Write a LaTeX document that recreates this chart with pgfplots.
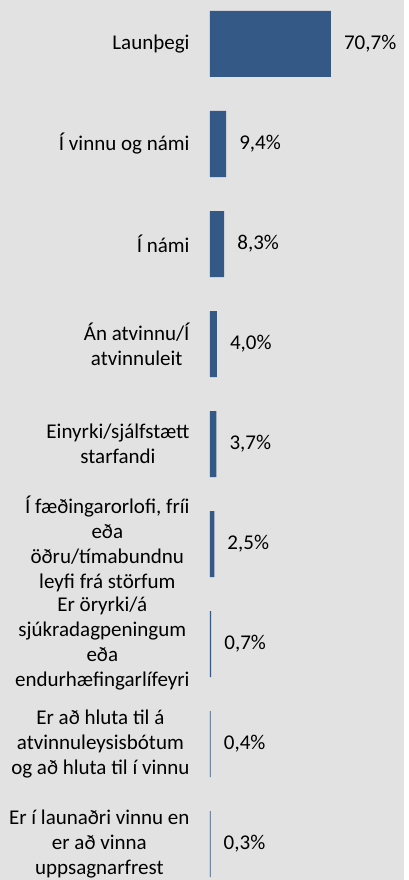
\documentclass[border=0pt]{standalone}
\usepackage{fontspec}
\setmainfont{Carlito}
\usepackage{pgfplots}
\pgfplotsset{compat=1.18}
\usetikzlibrary{backgrounds,calc}
\definecolor{bg}{RGB}{226,226,226}
\definecolor{barblue}{RGB}{52,89,134}
\begin{document}
\fontsize{21}{25}\selectfont
\begin{tikzpicture}[x=1pt,y=1pt]
\begin{axis}[
  scale only axis, width=194pt, height=880pt,
  xbar, bar width=66pt,
  xmin=0, xmax=113.45,
  ymin=-0.44, ymax=8.36, y dir=reverse,
  axis line style={draw=none}, tick style={draw=none},
  xtick=\empty,
  ytick={0,...,8},
  yticklabels={
    {Launþegi},
    {Í vinnu og námi},
    {Í námi},
    {Án atvinnu/Í\\atvinnuleit},
    {Einyrki/sjálfstætt\\starfandi},
    {Í fæðingarorlofi, fríi\\eða\\öðru/tímabundnu\\leyfi frá störfum},
    {Er öryrki/á\\sjúkradagpeningum\\eða\\endurhæfingarlífeyri},
    {Er að hluta til á\\atvinnuleysisbótum\\og að hluta til í vinnu},
    {Er í launaðri vinnu en\\er að vinna\\uppsagnarfrest}},
  yticklabel style={align=center, inner sep=0pt, xshift=-16pt,
    font=\fontsize{21}{25}\selectfont},
  nodes near coords={\pgfmathprintnumber{\pgfplotspointmeta}\%},
  every node near coord/.append style={anchor=west, inner sep=0pt, xshift=13pt,
    font=\fontsize{21}{25}\selectfont,
    /pgf/number format/.cd, use comma, fixed, fixed zerofill, precision=1,
    assume math mode=true},
  clip=false,
]
\addplot[fill=barblue, draw=none] coordinates {
  (70.7,0) (9.4,1) (8.3,2) (4.0,3) (3.7,4) (2.5,5) (0.7,6) (0.4,7) (0.3,8)};
\coordinate (bl) at (axis cs:0,8.36);
\end{axis}
\begin{scope}[on background layer]
\fill[bg] ($(bl)+(-210pt,0)$) rectangle ++(404pt,880pt);
\end{scope}
\end{tikzpicture}
\end{document}
